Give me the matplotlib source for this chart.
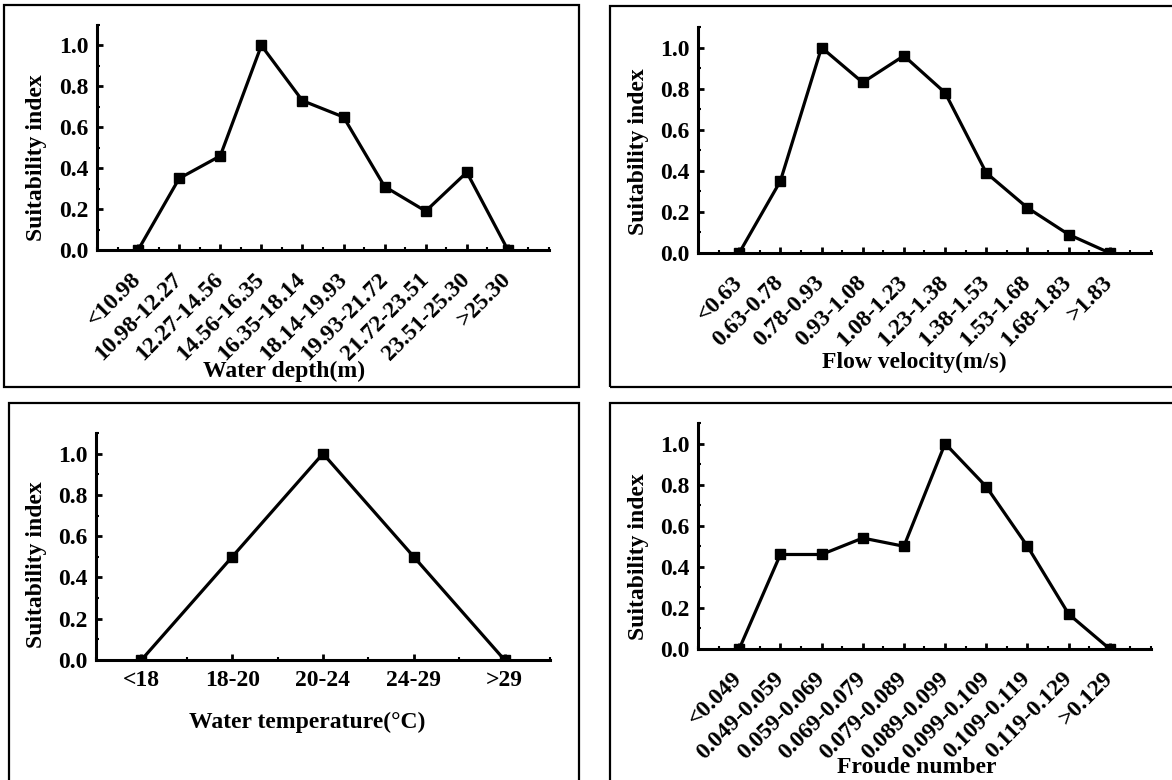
import numpy as np
import matplotlib
matplotlib.use("Agg")
import matplotlib.pyplot as plt
from matplotlib.patches import Rectangle
from matplotlib.ticker import MultipleLocator

plt.rcParams["font.family"] = ["Liberation Serif", "DejaVu Serif"]
plt.rcParams["font.weight"] = "bold"

# data
depth_labels = ["<10.98", "10.98-12.27", "12.27-14.56", "14.56-16.35", "16.35-18.14",
                "18.14-19.93", "19.93-21.72", "21.72-23.51", "23.51-25.30", ">25.30"]
depth_si = [0, 0.35, 0.46, 1.0, 0.73, 0.65, 0.31, 0.19, 0.38, 0]

velocity_labels = ["<0.63", "0.63-0.78", "0.78-0.93", "0.93-1.08", "1.08-1.23",
                   "1.23-1.38", "1.38-1.53", "1.53-1.68", "1.68-1.83", ">1.83"]
velocity_si = [0, 0.35, 1.0, 0.83, 0.96, 0.78, 0.39, 0.22, 0.09, 0]

temp_labels = ["<18", "18-20", "20-24", "24-29", ">29"]
temp_si = [0, 0.5, 1.0, 0.5, 0]

froude_labels = ["<0.049", "0.049-0.059", "0.059-0.069", "0.069-0.079", "0.079-0.089",
                 "0.089-0.099", "0.099-0.109", "0.109-0.119", "0.119-0.129", ">0.129"]
froude_si = [0, 0.46, 0.46, 0.54, 0.50, 1.0, 0.79, 0.50, 0.17, 0]

W, H = 1172, 780
fig = plt.figure(figsize=(W / 100, H / 100), dpi=100)


def px_axes(l, t, r, b):
    # pixel box -> figure fraction
    return [l / W, 1 - b / H, (r - l) / W, (b - t) / H]


def panel(box, labels, values, xlabel, xlab_pos, ylab_pos, rotate):
    ax = fig.add_axes(px_axes(*box))
    x = np.arange(len(labels))
    ax.plot(x, values, color="black", lw=2.3, marker="s", ms=7, zorder=3)
    ax.set_xlim(-1 if rotate else -0.5, len(labels) if rotate else len(labels) - 0.5)
    ax.set_ylim(0, 1.1)
    ax.set_xticks(x)
    ax.xaxis.set_minor_locator(MultipleLocator(0.5))
    ax.set_yticks([0, 0.2, 0.4, 0.6, 0.8, 1.0])
    ax.set_yticklabels(["0.0", "0.2", "0.4", "0.6", "0.8", "1.0"])
    ax.yaxis.set_minor_locator(MultipleLocator(0.1))
    for s in ["top", "right"]:
        ax.spines[s].set_visible(False)
    for s in ["left", "bottom"]:
        ax.spines[s].set_linewidth(2.2)
        ax.spines[s].set_zorder(4)
    ax.tick_params(which="major", direction="in", length=4, width=2, labelsize=17)
    ax.tick_params(which="minor", direction="in", length=2.5, width=1.5)
    ax.tick_params(axis="y", pad=6)
    if rotate:
        ax.set_xticklabels(labels, rotation=45, ha="right", va="center",
                           rotation_mode="anchor")
        ax.tick_params(axis="x", pad=19)
    else:
        ax.set_xticklabels(labels)
        ax.tick_params(axis="x", pad=7)
    for lab in ax.get_xticklabels() + ax.get_yticklabels():
        lab.set_fontweight("bold")
    ax.text(xlab_pos[0], xlab_pos[1], xlabel, transform=ax.transAxes,
            ha="center", va="center", fontsize=17, fontweight="bold")
    ax.text(ylab_pos[0], ylab_pos[1], "Suitability index", transform=ax.transAxes,
            ha="center", va="center", rotation=90, fontsize=17, fontweight="bold")
    return ax


panel((97, 25, 549, 250), depth_labels, depth_si, "Water depth(m)",
      (0.414, -0.54), (-0.133, 0.41), True)
panel((698, 27, 1151, 253), velocity_labels, velocity_si, "Flow velocity(m/s)",
      (0.477, -0.482), (-0.132, 0.447), True)
panel((96, 433, 550, 660), temp_labels, temp_si, "Water temperature(\u00b0C)",
      (0.465, -0.273), (-0.132, 0.418), False)
panel((698, 423, 1151, 649), froude_labels, froude_si, "Froude number",
      (0.483, -0.525), (-0.132, 0.41), True)

# frames around each panel
frames = [(4, 5, 579, 387), (610, 6, 1180, 387), (9, 403, 579, 790), (610, 403, 1180, 790)]
for l, t, r, b in frames:
    fig.patches.append(Rectangle((l / W, 1 - b / H), (r - l) / W, (b - t) / H,
                                 transform=fig.transFigure, fill=False,
                                 edgecolor="black", lw=1.6))

fig.savefig("out.png", dpi=100)
